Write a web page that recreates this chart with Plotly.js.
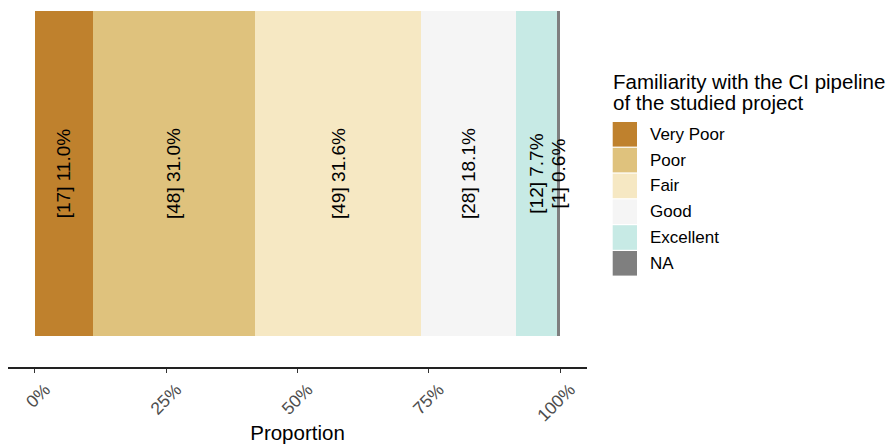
<!DOCTYPE html>
<html>
<head>
<meta charset="utf-8">
<script src="https://cdn.plot.ly/plotly-3.0.1.min.js"></script>
<style>html,body{margin:0;padding:0;background:#fff;}#chart{width:889px;height:444px;}</style>
</head>
<body>
<div id="chart"></div>
<script>
// Data
const categories = ["Very Poor", "Poor", "Fair", "Good", "Excellent", "NA"];
const counts = [17, 48, 49, 28, 12, 1];
const colors = ["#BF812D", "#DFC27D", "#F6E8C3", "#F5F5F5", "#C7EAE5", "#7F7F7F"];
const tickVals = [0, 0.25, 0.5, 0.75, 1];
const tickLabels = ["0%", "25%", "50%", "75%", "100%"];
const legendTitleLines = ["Familiarity with the CI pipeline", "of the studied project"];

const total = counts.reduce((a, b) => a + b, 0);
const FONT = "Liberation Sans, Arial, Helvetica, sans-serif";

// plot area in pixels
const L = 8, R = 587, T = 5, B = 367;
const W = 889, H = 444;
const pxX = px => (px - L) / (R - L);
const pxY = py => (B - py) / (B - T);

const traces = categories.map((c, i) => {
  const p = counts[i] / total;
  return {
    type: "bar",
    orientation: "h",
    name: c,
    x: [p],
    y: [0],
    width: 1,
    marker: {color: colors[i], line: {width: 0}},
    text: ["[" + counts[i] + "] " + (p * 100).toFixed(1) + "%"],
    textposition: "inside",
    insidetextanchor: "middle",
    textangle: -90,
    constraintext: "none",
    insidetextfont: {family: FONT, size: 19, color: "#000000"},
    textfont: {family: FONT, size: 19, color: "#000000"},
    hoverinfo: "skip",
    showlegend: false
  };
});

const shapes = [];
const annotations = [];
// manual legend (ggplot-like square keys)
const keyTop0 = 122, keyStep = 25.8, keyH = 24.6, keyX0 = 612.7, keyX1 = 637;
categories.forEach((c, i) => {
  const top = keyTop0 + i * keyStep;
  shapes.push({
    type: "rect", xref: "paper", yref: "paper",
    x0: pxX(keyX0), x1: pxX(keyX1), y0: pxY(top + keyH), y1: pxY(top),
    fillcolor: colors[i], line: {width: 0}
  });
  annotations.push({
    xref: "paper", yref: "paper", x: pxX(648), y: pxY(top + keyH / 2),
    xanchor: "left", yanchor: "middle", showarrow: false,
    text: c, font: {family: FONT, size: 17, color: "#000000"}
  });
});
legendTitleLines.forEach((t, i) => {
  annotations.push({
    xref: "paper", yref: "paper", x: pxX(611), y: pxY(81 + i * 22),
    xanchor: "left", yanchor: "middle", showarrow: false,
    text: t, font: {family: FONT, size: 20.5, color: "#000000"}
  });
});

const layout = {
  width: W, height: H,
  margin: {l: L, r: W - R, t: T, b: H - B, pad: 0},
  paper_bgcolor: "#ffffff", plot_bgcolor: "#ffffff",
  barmode: "stack",
  bargap: 0,
  showlegend: false,
  xaxis: {
    range: [-0.0514, 1.0514],
    tickvals: tickVals, ticktext: tickLabels,
    tickangle: -45,
    ticks: "outside", ticklen: 4, tickwidth: 1, tickcolor: "#333333",
    ticklabelshift: 10,
    showline: true, linecolor: "#222222", linewidth: 1.5,
    showgrid: false, zeroline: false,
    tickfont: {family: FONT, size: 17.5, color: "#4d4d4d"},
    title: {text: "Proportion", font: {family: FONT, size: 20.5, color: "#000000"}, standoff: 10},
    fixedrange: true
  },
  yaxis: {
    range: [-0.5954, 0.5185],
    visible: false, showgrid: false, zeroline: false, fixedrange: true
  },
  shapes: shapes,
  annotations: annotations
};

Plotly.newPlot("chart", traces, layout, {displayModeBar: false, staticPlot: true});
</script>
</body>
</html>
